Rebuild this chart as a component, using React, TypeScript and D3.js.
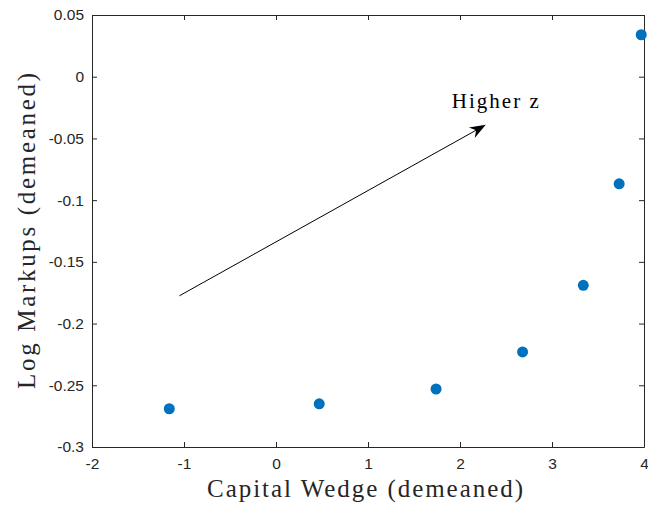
import React, { useEffect, useRef } from 'react';
import * as d3 from 'd3';

// binned scatter: capital wedge vs log markups
const wedge = [-1.16, 0.47, 1.74, 2.68, 3.34, 3.73, 3.97];
const markups = [-0.269, -0.265, -0.253, -0.223, -0.169, -0.0868, 0.034];

const xTicks = [-2, -1, 0, 1, 2, 3, 4];
const yTicks = [0.05, 0, -0.05, -0.1, -0.15, -0.2, -0.25, -0.3];

// annotation arrow (data coordinates)
const arrowFrom = [-1.05, -0.1775];
const arrowTo = [2.28, -0.039];
const arrowLabel = 'Higher z';

const App = () => {
  const svgRef = useRef<SVGSVGElement>(null);

  useEffect(() => {
    const svg = d3.select(svgRef.current);
    svg.selectAll('*').remove();

    const W = 648, H = 505;
    const margin = { top: 15, right: 4, bottom: 58, left: 92 };
    const width = W - margin.left - margin.right;
    const height = H - margin.top - margin.bottom;

    svg.attr('width', W).attr('height', H);
    const g = svg.append('g').attr('transform', `translate(${margin.left},${margin.top})`);

    const x = d3.scaleLinear().domain([-2, 4]).range([0, width]);
    const y = d3.scaleLinear().domain([-0.3, 0.05]).range([height, 0]);

    const fmt = (d: number) => (d === 0 ? '0' : String(d));
    const axisColor = '#262626';
    const tickFont = 'Liberation Sans, Arial, sans-serif';
    const serif = 'Liberation Serif, Times New Roman, serif';

    const styleAxis = (sel: any, showLabels: boolean) => {
      sel.select('.domain').attr('stroke', axisColor).attr('stroke-width', 1);
      sel.selectAll('.tick line').attr('stroke', axisColor);
      sel.selectAll('.tick text')
        .style('font-family', tickFont)
        .style('font-size', '15.5px')
        .attr('fill', axisColor)
        .style('display', showLabels ? null : 'none');
    };

    g.append('g')
      .attr('transform', `translate(0,${height})`)
      .call(d3.axisBottom(x).tickValues(xTicks).tickSize(-5).tickSizeOuter(0).tickPadding(11).tickFormat(fmt as any))
      .call((s: any) => styleAxis(s, true));
    g.append('g')
      .call(d3.axisTop(x).tickValues(xTicks).tickSize(-5).tickSizeOuter(0))
      .call((s: any) => styleAxis(s, false));
    g.append('g')
      .call(d3.axisLeft(y).tickValues(yTicks).tickSize(-5).tickSizeOuter(0).tickPadding(8).tickFormat(fmt as any))
      .call((s: any) => styleAxis(s, true));
    g.append('g')
      .attr('transform', `translate(${width},0)`)
      .call(d3.axisRight(y).tickValues(yTicks).tickSize(-5).tickSizeOuter(0))
      .call((s: any) => styleAxis(s, false));

    // points
    g.selectAll('.pt')
      .data(wedge.map((w, i) => [w, markups[i]]))
      .enter()
      .append('circle')
      .attr('class', 'pt')
      .attr('cx', d => x(d[0]))
      .attr('cy', d => y(d[1]))
      .attr('r', 5.5)
      .attr('fill', '#0072BD');

    // arrow
    const x1 = x(arrowFrom[0]), y1 = y(arrowFrom[1]);
    const x2 = x(arrowTo[0]), y2 = y(arrowTo[1]);
    const ang = Math.atan2(y2 - y1, x2 - x1);
    const L = 16, Wd = 6, back = 11;
    const pt = (a: number, b: number) => [x2 + a * Math.cos(ang) - b * Math.sin(ang), y2 + a * Math.sin(ang) + b * Math.cos(ang)];
    const p1 = pt(-L, -Wd), p2 = pt(-back, 0), p3 = pt(-L, Wd);
    g.append('line')
      .attr('x1', x1).attr('y1', y1)
      .attr('x2', p2[0]).attr('y2', p2[1])
      .attr('stroke', '#000').attr('stroke-width', 1);
    g.append('path')
      .attr('d', `M${x2},${y2}L${p1[0]},${p1[1]}L${p2[0]},${p2[1]}L${p3[0]},${p3[1]}Z`)
      .attr('fill', '#000');

    g.append('text')
      .attr('x', x(arrowTo[0]) - 34)
      .attr('y', y(arrowTo[1]) - 17)
      .attr('textLength', 87)
      .attr('lengthAdjust', 'spacing')
      .text(arrowLabel)
      .style('font-family', serif)
      .style('font-size', '21px')
      .attr('fill', '#000');

    // axis labels
    svg.append('text')
      .attr('x', 207)
      .attr('y', 497)
      .attr('textLength', 316)
      .attr('lengthAdjust', 'spacing')
      .text('Capital Wedge (demeaned)')
      .style('font-family', serif)
      .style('font-size', '25px')
      .attr('fill', '#262626');

    svg.append('text')
      .attr('transform', `translate(35,${margin.top + height / 2}) rotate(-90)`)
      .attr('text-anchor', 'middle')
      .attr('textLength', 316)
      .attr('lengthAdjust', 'spacing')
      .text('Log Markups (demeaned)')
      .style('font-family', serif)
      .style('font-size', '25px')
      .attr('fill', '#262626');
  }, []);

  return (
    <div style={{ position: 'absolute', left: 0, top: 0 }}>
      <svg ref={svgRef}></svg>
    </div>
  );
};

export default App;
